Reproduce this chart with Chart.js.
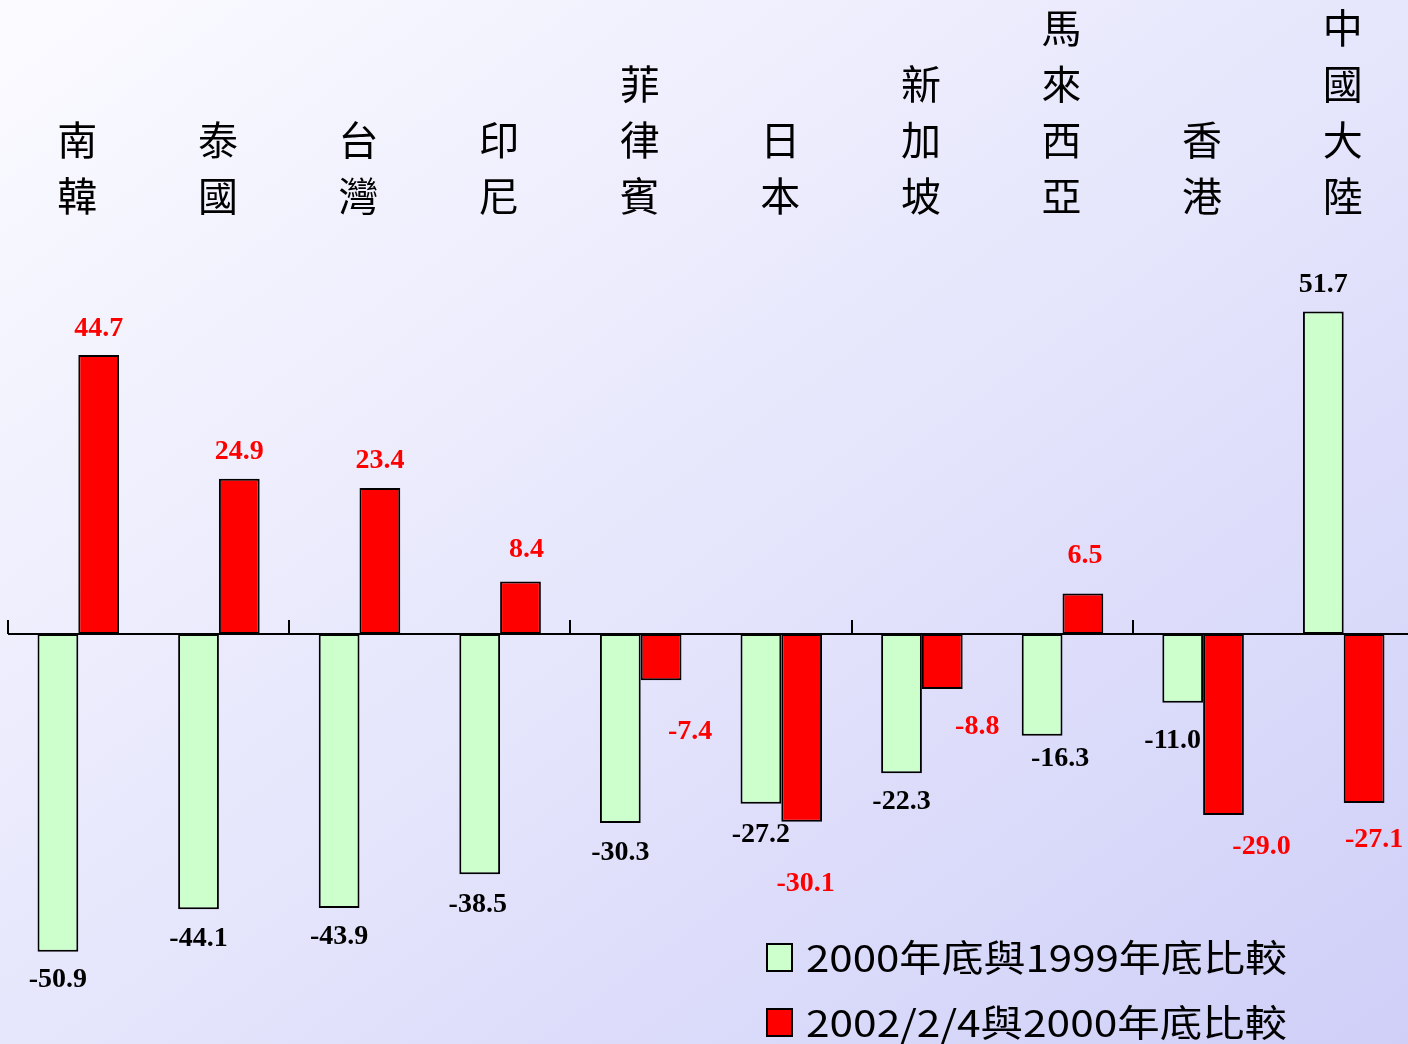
<!DOCTYPE html>
<html>
<head>
<meta charset="utf-8">
<script src="https://cdn.jsdelivr.net/npm/chart.js@4"></script>
<style>
  html, body { margin: 0; padding: 0; overflow: hidden; width: 1408px; height: 1044px; }
  body { background: linear-gradient(to bottom right, #fbfbff 0%, #e6e6fc 50%, #cfcff8 100%); }
  #wrap { position: absolute; left: 0; top: 0; width: 1420px; height: 1044px; }
</style>
</head>
<body>
<div id="wrap"><canvas id="c"></canvas></div>
<script>
// ---- data ----
const categories = ['南韓', '泰國', '台灣', '印尼', '菲律賓', '日本', '新加坡', '馬來西亞', '香港', '中國大陸'];
const seriesNames = ['2000年底與1999年底比較', '2002/2/4與2000年底比較'];
const change2000vs1999 = [-50.9, -44.1, -43.9, -38.5, -30.3, -27.2, -22.3, -16.3, -11.0, 51.7];
const change2002vs2000 = [44.7, 24.9, 23.4, 8.4, -7.4, -30.1, -8.8, 6.5, -29.0, -27.1];
const yMin = -65.7;
const yMax = 101.6;

// label nudges (pixels) relative to the bar end, as placed in the original
const labelShiftA = [[0,28],[0,30],[0,29],[-2,31],[0,30],[0,31],[0,29],[18,23],[-10,38],[0,-27]];
const labelShiftB = [[0,-26],[0,-27],[0,-27],[6,-32],[29,52],[4,62],[35,38],[2,-38],[38,32],[10,37]];

const colorA = '#ccffcc';
const colorB = '#ff0000';

const decorPlugin = {
  id: 'decor',
  afterDatasetsDraw(chart) {
    const ctx = chart.ctx;
    const area = chart.chartArea;
    const xs = chart.scales.x, ys = chart.scales.y;
    const y0 = ys.getPixelForValue(0);
    const catW = (area.right - area.left) / categories.length;
    ctx.save();
    // zero axis line
    ctx.strokeStyle = '#000';
    ctx.lineWidth = 2;
    ctx.beginPath();
    ctx.moveTo(area.left, y0);
    ctx.lineTo(area.right, y0);
    ctx.stroke();
    // tick marks every two categories
    for (let k = 0; k <= categories.length; k += 2) {
      const x = Math.round(area.left + k * catW);
      ctx.beginPath();
      ctx.moveTo(x, y0);
      ctx.lineTo(x, y0 - 14);
      ctx.stroke();
    }
    // vertical category labels
    ctx.fillStyle = '#000';
    ctx.font = '40px "Noto Sans CJK TC"';
    ctx.textAlign = 'center';
    ctx.textBaseline = 'middle';
    categories.forEach((name, i) => {
      const x = xs.getPixelForValue(i) - 1;
      const chars = Array.from(name);
      chars.forEach((ch, j) => {
        const y = 196 - (chars.length - 1 - j) * 56;
        ctx.fillText(ch, x, y);
      });
    });
    // value labels
    ctx.font = 'bold 28px "Liberation Serif"';
    const sets = [[change2000vs1999, labelShiftA, '#000'], [change2002vs2000, labelShiftB, '#ff0000']];
    sets.forEach(([vals, shifts, col], di) => {
      const meta = chart.getDatasetMeta(di);
      ctx.fillStyle = col;
      meta.data.forEach((bar, i) => {
        const v = vals[i];
        ctx.fillText(v.toFixed(1), bar.x + shifts[i][0], bar.y + shifts[i][1]);
      });
    });
    // legend
    const legendColors = [colorA, colorB];
    ctx.textAlign = 'left';
    ctx.font = '37px "Noto Sans CJK TC"';
    seriesNames.forEach((name, i) => {
      const cy = 958 + i * 65;
      ctx.fillStyle = legendColors[i];
      ctx.fillRect(767, cy - 14, 25, 27);
      ctx.strokeStyle = '#000';
      ctx.lineWidth = 2;
      ctx.strokeRect(767, cy - 14, 25, 27);
      ctx.fillStyle = '#000';
      const w = ctx.measureText(name).width;
      ctx.save();
      ctx.translate(806, cy);
      ctx.scale(481 / w, 1);
      ctx.fillText(name, 0, 0);
      ctx.restore();
    });
    ctx.restore();
  }
};

new Chart(document.getElementById('c'), {
  type: 'bar',
  data: {
    labels: categories,
    datasets: [
      { label: seriesNames[0], data: change2000vs1999, backgroundColor: colorA, borderColor: '#000', borderWidth: 2, borderSkipped: false },
      { label: seriesNames[1], data: change2002vs2000, backgroundColor: colorB, borderColor: '#000', borderWidth: 2, borderSkipped: false }
    ]
  },
  options: {
    responsive: true,
    maintainAspectRatio: false,
    animation: false,
    devicePixelRatio: 1,
    layout: { padding: { left: 8, right: 6, top: 0, bottom: 0 } },
    categoryPercentage: 0.58,
    barPercentage: 1.0,
    scales: {
      x: { display: false },
      y: { display: false, min: yMin, max: yMax }
    },
    plugins: {
      legend: { display: false },
      tooltip: { enabled: false }
    }
  },
  plugins: [decorPlugin]
});
</script>
</body>
</html>
